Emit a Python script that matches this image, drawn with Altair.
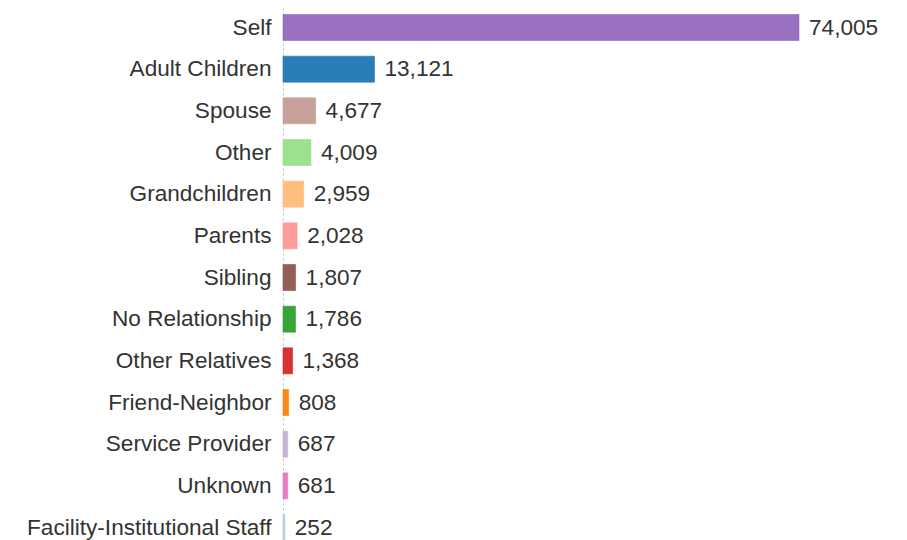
import altair as alt
import pandas as pd

categories = ["Self", "Adult Children", "Spouse", "Other", "Grandchildren", "Parents",
              "Sibling", "No Relationship", "Other Relatives", "Friend-Neighbor",
              "Service Provider", "Unknown", "Facility-Institutional Staff"]
values = [74005, 13121, 4677, 4009, 2959, 2028, 1807, 1786, 1368, 808, 687, 681, 252]
colors = ["#9467bd", "#1f77b4", "#c49c94", "#98df8a", "#ffbb78", "#ff9896", "#8c564b",
          "#2ca02c", "#d62728", "#ff7f0e", "#c5b0d5", "#e377c2", "#aec7e8"]

df = pd.DataFrame({"category": categories, "value": values})

FS = 22.6

y_enc = alt.Y("category:N", sort=categories,
              scale=alt.Scale(paddingInner=0.376, paddingOuter=0.156),
              axis=alt.Axis(title=None, ticks=False, labelPadding=12, labelFontSize=FS,
                            labelFont="Liberation Sans", labelColor="#333333", labelLimit=500,
                            domainColor="#bbbbbb", domainDash=[2, 3], domainWidth=1))
x_enc = alt.X("value:Q", scale=alt.Scale(domain=[0, 74005], nice=False, zero=True), axis=None)

bars = alt.Chart(df).mark_bar(strokeWidth=1, fillOpacity=0.95, strokeOpacity=0.6).encode(
    y=y_enc, x=x_enc,
    color=alt.Color("category:N", scale=alt.Scale(domain=categories, range=colors), legend=None),
    stroke=alt.Color("category:N", scale=alt.Scale(domain=categories, range=colors), legend=None),
)

labels = alt.Chart(df).mark_text(align="left", baseline="middle", dx=10, fontSize=FS,
                                 font="Liberation Sans", color="#333333").encode(
    y=alt.Y("category:N", sort=categories), x="value:Q",
    text=alt.Text("value:Q", format=",")
)

chart = alt.layer(bars, labels).properties(
    width=516, height=539,
    padding={"left": 275, "top": 0, "right": 100, "bottom": 0},
    autosize="none",
).configure_view(stroke=None)

chart.save("out.html", embed_options={"renderer": "svg", "actions": False})
